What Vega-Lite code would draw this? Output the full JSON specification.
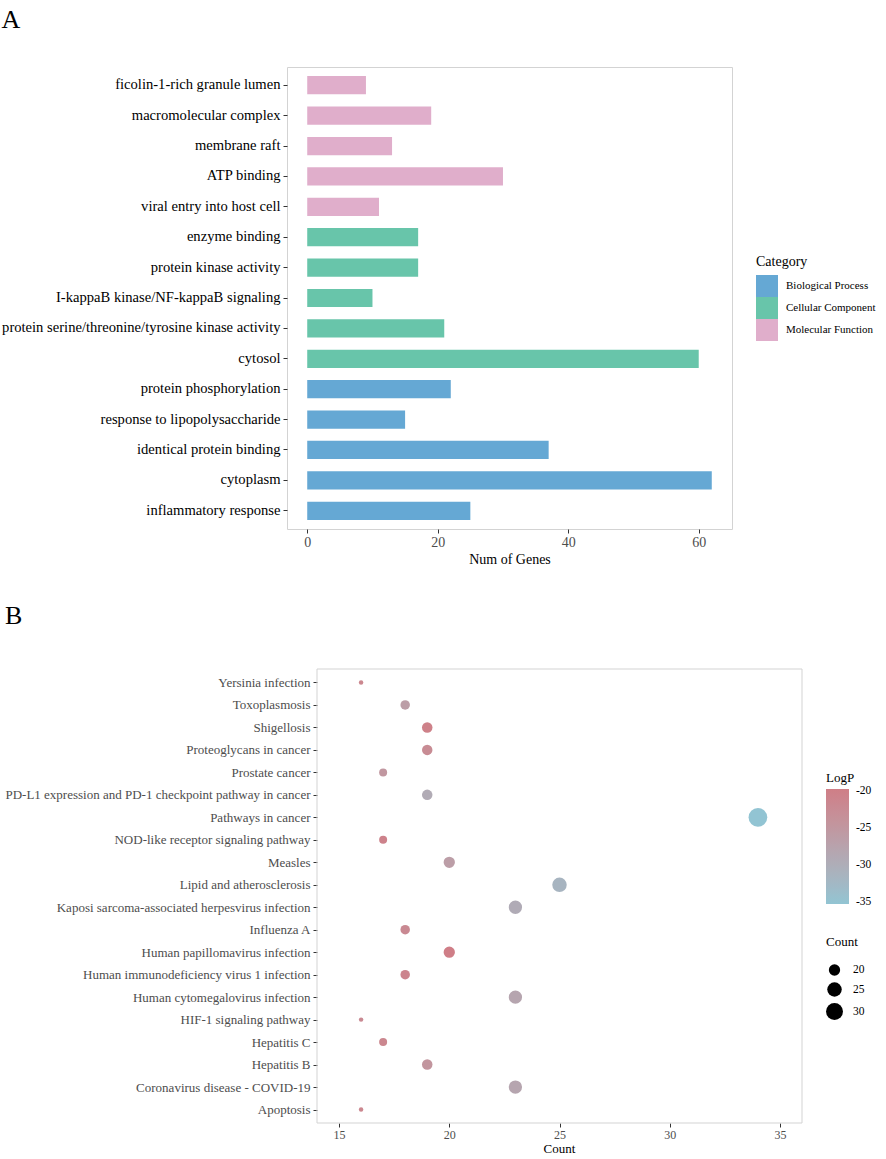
{
  "$schema": "https://vega.github.io/schema/vega-lite/v6.json",
  "padding": {"left": 1, "top": 6, "right": 0, "bottom": 0},
  "config": {
    "font": "Liberation Serif",
    "view": {"stroke": "#D3D3D3", "strokeWidth": 1},
    "axis": {"grid": false, "domain": false, "tickColor": "#333333", "tickSize": 4, "labelFont": "Liberation Serif", "titleFont": "Liberation Serif", "titleFontWeight": "normal", "labelLimit": 500},
    "legend": {"labelFont": "Liberation Serif", "titleFont": "Liberation Serif", "titleFontWeight": "normal", "labelColor": "black", "titleColor": "black", "labelLimit": 300},
    "title": {"font": "Liberation Serif", "fontWeight": "normal", "color": "black"}
  },
  "columns": 1,
  "spacing": 35,
  "resolve": {
    "scale": {"color": "independent", "x": "independent", "y": "independent", "size": "independent"},
    "legend": {"color": "independent", "size": "independent"}
  },
  "concat": [
    {
      "title": {"text": "A", "anchor": "start", "frame": "bounds", "fontSize": 26, "baseline": "alphabetic", "offset": 13},
      "width": 445,
      "height": 462,
      "data": {"values": [
        {"term": "ficolin-1-rich granule lumen", "genes": 9, "category": "Molecular Function"},
        {"term": "macromolecular complex", "genes": 19, "category": "Molecular Function"},
        {"term": "membrane raft", "genes": 13, "category": "Molecular Function"},
        {"term": "ATP binding", "genes": 30, "category": "Molecular Function"},
        {"term": "viral entry into host cell", "genes": 11, "category": "Molecular Function"},
        {"term": "enzyme binding", "genes": 17, "category": "Cellular Component"},
        {"term": "protein kinase activity", "genes": 17, "category": "Cellular Component"},
        {"term": "I-kappaB kinase/NF-kappaB signaling", "genes": 10, "category": "Cellular Component"},
        {"term": "protein serine/threonine/tyrosine kinase activity", "genes": 21, "category": "Cellular Component"},
        {"term": "cytosol", "genes": 60, "category": "Cellular Component"},
        {"term": "protein phosphorylation", "genes": 22, "category": "Biological Process"},
        {"term": "response to lipopolysaccharide", "genes": 15, "category": "Biological Process"},
        {"term": "identical protein binding", "genes": 37, "category": "Biological Process"},
        {"term": "cytoplasm", "genes": 62, "category": "Biological Process"},
        {"term": "inflammatory response", "genes": 25, "category": "Biological Process"}
      ]},
      "mark": {"type": "bar"},
      "encoding": {
        "y": {"field": "term", "type": "nominal", "sort": null,
              "scale": {"paddingInner": 0.4, "paddingOuter": 0.3},
              "axis": {"title": null, "labelFontSize": 14.6, "labelColor": "black", "labelPadding": 3}},
        "x": {"field": "genes", "type": "quantitative",
              "scale": {"domain": [-3.1, 65.1], "nice": false, "zero": false},
              "axis": {"values": [0, 20, 40, 60], "title": "Num of Genes", "titleFontSize": 14, "labelFontSize": 14, "labelColor": "#4D4D4D", "titleColor": "black", "titlePadding": 3, "labelPadding": 2}},
        "x2": {"datum": 0},
        "color": {"field": "category", "type": "nominal",
                  "scale": {"domain": ["Biological Process", "Cellular Component", "Molecular Function"], "range": ["#65A8D4", "#68C5AA", "#E0AECB"]},
                  "legend": {"title": "Category", "orient": "none", "legendX": 469, "legendY": 188, "symbolType": "square", "symbolSize": 484, "symbolStrokeWidth": 0, "symbolOpacity": 1, "rowPadding": 0, "labelFontSize": 11, "titleFontSize": 14, "labelOffset": 8, "titlePadding": 6}}
      }
    },
    {
      "title": {"text": "B", "anchor": "start", "frame": "bounds", "fontSize": 26, "baseline": "alphabetic", "offset": 19},
      "width": 515,
      "height": 454,
      "view": {"stroke": null},
      "layer": [
        {
          "data": {"values": [{"lo": 14, "hi": 36}]},
          "mark": {"type": "rect", "fillOpacity": 0, "stroke": "#D3D3D3", "strokeWidth": 1},
          "encoding": {
            "x": {"field": "lo", "type": "quantitative"},
            "x2": {"field": "hi"}
          }
        },
        {
          "data": {"values": [
            {"pathway": "Yersinia infection", "count": 16, "logp": -21.5},
            {"pathway": "Toxoplasmosis", "count": 18, "logp": -26.5},
            {"pathway": "Shigellosis", "count": 19, "logp": -20.2},
            {"pathway": "Proteoglycans in cancer", "count": 19, "logp": -22.5},
            {"pathway": "Prostate cancer", "count": 17, "logp": -25},
            {"pathway": "PD-L1 expression and PD-1 checkpoint pathway in cancer", "count": 19, "logp": -29.3},
            {"pathway": "Pathways in cancer", "count": 34, "logp": -35.3},
            {"pathway": "NOD-like receptor signaling pathway", "count": 17, "logp": -20.5},
            {"pathway": "Measles", "count": 20, "logp": -26.5},
            {"pathway": "Lipid and atherosclerosis", "count": 25, "logp": -31.5},
            {"pathway": "Kaposi sarcoma-associated herpesvirus infection", "count": 23, "logp": -29.5},
            {"pathway": "Influenza A", "count": 18, "logp": -22},
            {"pathway": "Human papillomavirus infection", "count": 20, "logp": -19.7},
            {"pathway": "Human immunodeficiency virus 1 infection", "count": 18, "logp": -21},
            {"pathway": "Human cytomegalovirus infection", "count": 23, "logp": -28},
            {"pathway": "HIF-1 signaling pathway", "count": 16, "logp": -22},
            {"pathway": "Hepatitis C", "count": 17, "logp": -21.5},
            {"pathway": "Hepatitis B", "count": 19, "logp": -24.5},
            {"pathway": "Coronavirus disease - COVID-19", "count": 23, "logp": -28},
            {"pathway": "Apoptosis", "count": 16, "logp": -21.5}
          ]},
          "mark": {"type": "circle", "opacity": 1},
          "encoding": {
            "y": {"field": "pathway", "type": "nominal", "sort": null,
                  "scale": {"padding": 0.6},
                  "axis": {"title": null, "labelFontSize": 13, "labelColor": "#4D4D4D", "labelPadding": 3, "offset": -30}},
            "x": {"field": "count", "type": "quantitative",
                  "scale": {"domain": [14, 36], "range": [30, 515], "nice": false, "zero": false},
                  "axis": {"values": [15, 20, 25, 30, 35], "title": "Count", "titleX": 272, "titleFontSize": 13, "labelFontSize": 12, "labelColor": "#4D4D4D", "titleColor": "black", "titlePadding": 2, "labelPadding": 2}},
            "color": {"field": "logp", "type": "quantitative",
                      "scale": {"domain": [-35.3, -19.7], "range": ["#92C4D3", "#CF7E87"], "interpolate": "lab"},
                      "legend": {"title": "LogP", "orient": "none", "direction": "vertical", "legendX": 539, "legendY": 103, "gradientLength": 115, "gradientThickness": 23, "gradientStrokeWidth": 0, "values": [-35, -30, -25, -20], "labelExpr": "replace(datum.label, '−', '-')", "labelFontSize": 11.5, "labelOffset": 7, "titleFontSize": 13, "titlePadding": 4}},
            "size": {"field": "count", "type": "quantitative",
                     "scale": {"domain": [16, 17, 18, 19, 20, 23, 25, 34], "range": [20, 64, 90, 110, 128, 177, 210, 350]},
                     "legend": {"title": "Count", "orient": "none", "legendX": 539, "legendY": 267, "values": [20, 25, 30], "symbolFillColor": "black", "symbolStrokeWidth": 0, "symbolOpacity": 1, "labelFontSize": 11.5, "titleFontSize": 13, "labelOffset": 10, "rowPadding": 6, "titlePadding": 15}}
          }
        }
      ]
    }
  ]
}
